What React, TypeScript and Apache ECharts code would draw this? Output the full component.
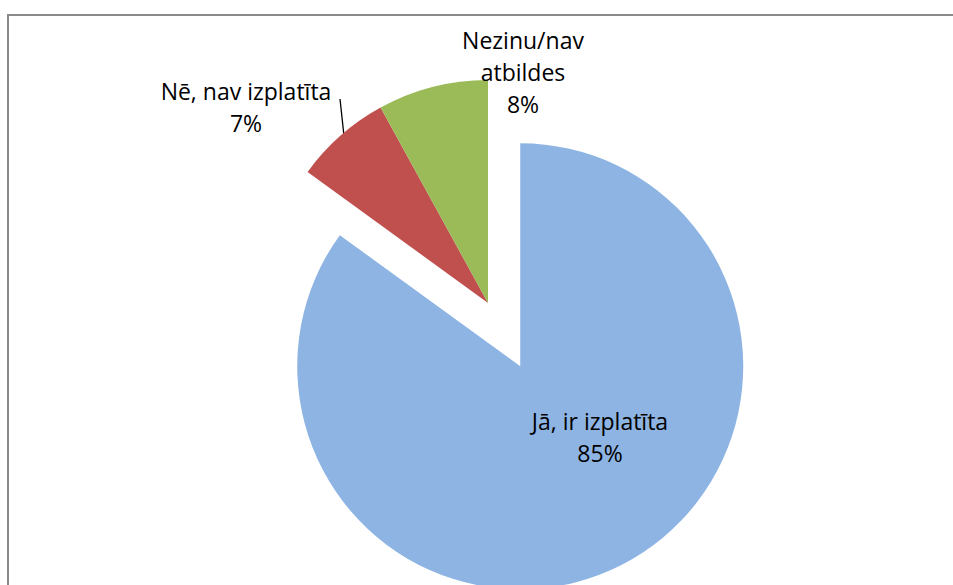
import React, { useEffect, useRef } from "react";
import * as echarts from "echarts";

const categories = ["Jā, ir izplatīta", "Nē, nav izplatīta", "Nezinu/nav\natbildes"];
const values = [85, 7, 8];
const colors = ["#8EB4E3", "#C0504D", "#9BBB59"];
// which slices are pulled out of the pie (exploded)
const exploded = [true, false, false];

export default function App() {
  const ref = useRef<HTMLDivElement>(null);
  useEffect(() => {
    document.body.style.margin = "0";
    const chart = echarts.init(ref.current!, null, { renderer: "svg" });
    const labelPos = [
      { x: 600, y: 437 },
      { x: 246, y: 107 },
      { x: 523, y: 72 },
    ];
    const baseCenter = [488, 303];
    const radius = 223;
    const offset = 71;
    // explosion direction for the exploded slice: its mid-angle (clockwise from 12 o'clock)
    const total = values.reduce((a, b) => a + b, 0);
    const ang = (values[0] / 2 / total) * 2 * Math.PI;
    const explodedCenter = [
      baseCenter[0] + offset * Math.sin(ang),
      baseCenter[1] - offset * Math.cos(ang),
    ];

    const makeSeries = (isExploded: boolean) => ({
      type: "pie",
      center: isExploded ? explodedCenter : baseCenter,
      radius,
      startAngle: 90,
      clockwise: true,
      silent: true,
      avoidLabelOverlap: false,
      itemStyle: { borderWidth: 0 },
      emphasis: { disabled: true },
      label: {
        show: true,
        formatter: "{b}\n{d}%",
        fontFamily: "Open Sans",
        fontSize: 23,
        lineHeight: 32,
        color: "#000000",
        align: "center",
      },
      labelLine: { show: false },
      labelLayout: (params: any) => {
        const p = labelPos[params.dataIndex];
        const res: any = { x: p.x, y: p.y, align: "center", verticalAlign: "middle" };
        if (params.dataIndex === 1) {
          res.labelLinePoints = [
            [340, 99],
            [344, 136],
          ];
        }
        return res;
      },
      data: categories.map((name, i) => {
        const visible = exploded[i] === isExploded;
        return {
          name,
          value: values[i],
          itemStyle: { color: visible ? colors[i] : "rgba(0,0,0,0)" },
          label: { show: visible },
          labelLine:
            visible && i === 1
              ? { show: true, lineStyle: { color: "#000000", width: 1.3 } }
              : { show: false },
        };
      }),
    });

    chart.setOption({
      animation: false,
      backgroundColor: "#ffffff",
      graphic: [
        {
          type: "rect",
          shape: { x: 8, y: 15, width: 980, height: 620 },
          style: { fill: "none", stroke: "#8a8a8a", lineWidth: 2 },
          silent: true,
          z: -10,
        },
      ],
      series: [makeSeries(false), makeSeries(true)],
    });
    return () => chart.dispose();
  }, []);
  return <div ref={ref} style={{ width: 953, height: 585 }} />;
}
